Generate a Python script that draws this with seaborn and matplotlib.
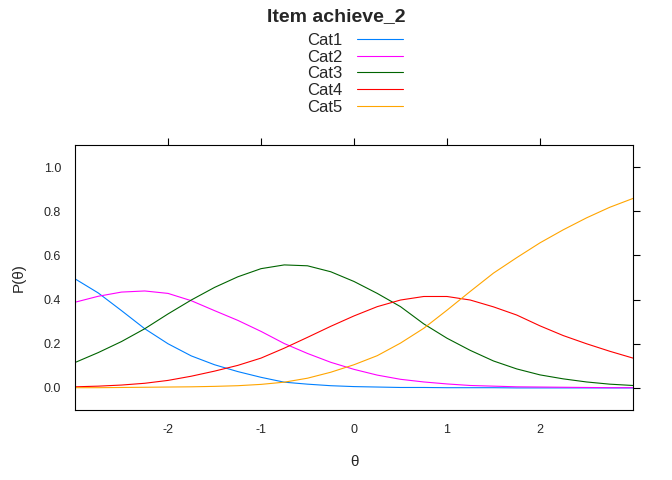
import numpy as np
import pandas as pd
import matplotlib
matplotlib.use("Agg")
import matplotlib.pyplot as plt
import seaborn as sns

theta = [-3.0, -2.75, -2.5, -2.25, -2.0, -1.75, -1.5, -1.25, -1.0, -0.75, -0.5, -0.25,
         0.0, 0.25, 0.5, 0.75, 1.0, 1.25, 1.5, 1.75, 2.0, 2.25, 2.5, 2.75, 3.0]

cat1 = [0.494, 0.430, 0.350, 0.268, 0.200, 0.145, 0.105, 0.074, 0.048, 0.026, 0.017, 0.010,
        0.006, 0.004, 0.002, 0.002, 0.001, 0.001, 0.001, 0.000, 0.000, 0.000, 0.000, 0.000, 0.000]
cat2 = [0.388, 0.415, 0.434, 0.439, 0.428, 0.395, 0.350, 0.306, 0.256, 0.201, 0.156, 0.116,
        0.084, 0.058, 0.039, 0.027, 0.018, 0.011, 0.008, 0.005, 0.004, 0.003, 0.002, 0.001, 0.001]
cat3 = [0.115, 0.160, 0.210, 0.268, 0.335, 0.398, 0.455, 0.503, 0.540, 0.557, 0.553, 0.526,
        0.482, 0.428, 0.368, 0.290, 0.225, 0.170, 0.122, 0.086, 0.059, 0.041, 0.027, 0.017, 0.011]
cat4 = [0.005, 0.008, 0.013, 0.021, 0.034, 0.053, 0.076, 0.102, 0.135, 0.180, 0.229, 0.279,
        0.326, 0.368, 0.398, 0.414, 0.414, 0.398, 0.367, 0.330, 0.281, 0.237, 0.200, 0.166, 0.135]
cat5 = [0.001, 0.001, 0.002, 0.003, 0.004, 0.005, 0.007, 0.010, 0.016, 0.026, 0.044, 0.071,
        0.105, 0.146, 0.203, 0.270, 0.352, 0.437, 0.520, 0.590, 0.657, 0.716, 0.770, 0.818, 0.858]

categories = ["Cat1", "Cat2", "Cat3", "Cat4", "Cat5"]
colors = ["#0080ff", "#ff00ff", "#006400", "#ff0000", "#ffa500"]

df = pd.concat([
    pd.DataFrame({"theta": theta, "P": vals, "cat": name})
    for name, vals in zip(categories, [cat1, cat2, cat3, cat4, cat5])
], ignore_index=True)

sns.set_style("white")
plt.rcParams["font.family"] = ["Liberation Sans", "DejaVu Sans"]

fig = plt.figure(figsize=(6.72, 4.8), dpi=100)
ax = fig.add_axes([75 / 672, 1 - 410 / 480, 558 / 672, 265 / 480])

sns.lineplot(data=df, x="theta", y="P", hue="cat", hue_order=categories,
             palette=dict(zip(categories, colors)), linewidth=0.8, ax=ax,
             legend=True)

handles, labels = ax.get_legend_handles_labels()
ax.get_legend().remove()

ax.set_xlim(-3, 3)
ax.set_ylim(-0.1, 1.1)
ax.set_xticks([-2, -1, 0, 1, 2])
ax.set_xticklabels(["-2", "-1", "0", "1", "2"])
ax.set_yticks([0.0, 0.2, 0.4, 0.6, 0.8, 1.0])
ax.set_yticklabels(["0.0", "0.2", "0.4", "0.6", "0.8", "1.0"])
ax.tick_params(axis="both", which="both", direction="out", length=5, width=0.8,
               labelsize=9, pad=5, color="black",
               top=True, right=True, labeltop=False, labelright=False)
for s in ax.spines.values():
    s.set_visible(True)
    s.set_color("black")
    s.set_linewidth(0.8)

ax.set_xlabel("θ", fontsize=11, labelpad=14)
ax.set_ylabel("P(θ)", fontsize=11, labelpad=13)

fig.text(0.5, 1 - 17 / 480, "Item achieve_2", ha="center", va="center",
         fontsize=14, fontweight="bold")

for h in handles:
    h.set_linewidth(0.8)
leg = fig.legend(handles, labels, loc="upper center",
                 bbox_to_anchor=(355 / 672, 1 - 33 / 480), frameon=False,
                 markerfirst=False, fontsize=12, handlelength=2.75,
                 labelspacing=0.1, handletextpad=0.9, borderpad=0.0,
                 borderaxespad=0.0)

fig.savefig("out.png", dpi=100)
